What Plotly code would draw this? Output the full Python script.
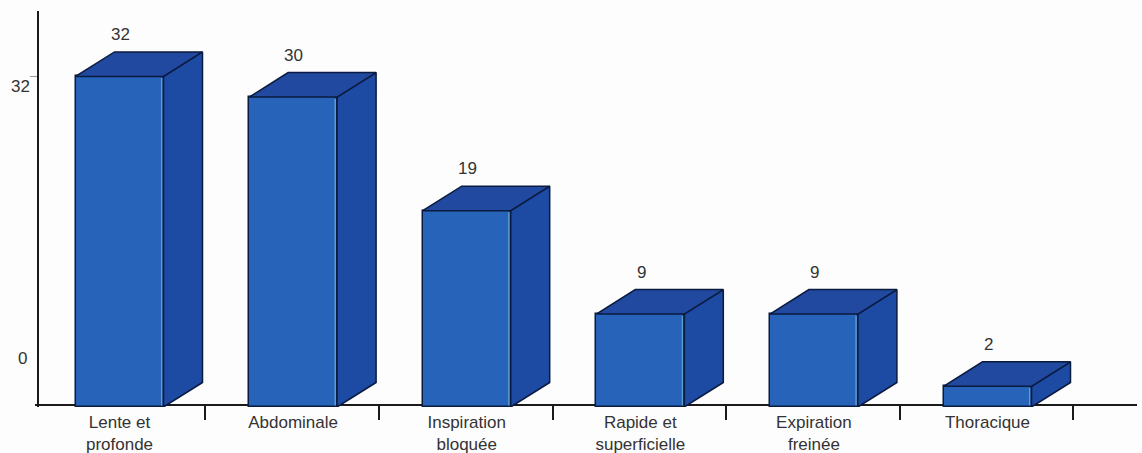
import plotly.graph_objects as go

categories = ["Lente et<br>profonde", "Abdominale", "Inspiration<br>bloquée", "Rapide et<br>superficielle", "Expiration<br>freinée", "Thoracique"]
values = [32, 30, 19, 9, 9, 2]
value_labels = ["32", "30", "19", "9", "9", "2"]

W, H = 1142, 453
ML, MR, MT, MB = 35, 5, 11, 46
PX_X = 173.6
PX_Y = 10.33
X0_PX = 119.5
plot_w = W - ML - MR
plot_h = H - MT - MB
xr = [(ML - X0_PX) / PX_X, (W - MR - X0_PX) / PX_X]
yr = [0, plot_h / PX_Y]

BAR_W = 88 / PX_X
DX = 39 / PX_X
DY = 24.5 / PX_Y
FRONT, TOP, SIDE, EDGE, INK, GLINT = "#2763b8", "#20499f", "#1d4aa3", "#0b1a3f", "#333333", "#5a9fd4"

xs = list(range(len(values)))
fig = go.Figure()
fig.add_trace(go.Bar(x=xs, y=values, width=BAR_W, marker=dict(color=FRONT, line=dict(color=EDGE, width=1.5)), hoverinfo="skip"))
for x, v in zip(xs, values):
    l, r = x - BAR_W / 2, x + BAR_W / 2
    fig.add_trace(go.Scatter(x=[r - 1.8 / PX_X] * 2, y=[0.15, v - 0.15], mode="lines", line=dict(color=GLINT, width=1.5), hoverinfo="skip"))
    fig.add_trace(go.Scatter(x=[r, r + DX, r + DX, r, r], y=[v, v + DY, DY, 0, v], mode="lines", fill="toself", fillcolor=SIDE,
                             line=dict(color=EDGE, width=1.5), hoverinfo="skip", cliponaxis=False))
    fig.add_trace(go.Scatter(x=[l, l + DX, r + DX, r, l], y=[v, v + DY, v + DY, v, v], mode="lines", fill="toself", fillcolor=TOP,
                             line=dict(color=EDGE, width=1.5), hoverinfo="skip", cliponaxis=False))

for x, v, t in zip(xs, values, value_labels):
    fig.add_annotation(x=x + 0.005, y=v, text=t, showarrow=False, yshift=42, font=dict(size=17, color=INK, family="Liberation Sans"))
fig.add_annotation(xref="paper", yref="y", x=-0.0136, y=32, text="32", showarrow=False, xanchor="center", yshift=-10, font=dict(size=17, color=INK, family="Liberation Sans"))
fig.add_annotation(xref="paper", yref="y", x=-0.011, y=0, text="0", showarrow=False, xanchor="center", yshift=49, font=dict(size=17, color=INK, family="Liberation Sans"))

fig.update_layout(
    width=W, height=H, autosize=False, showlegend=False, bargap=0,
    margin=dict(l=ML, r=MR, t=MT, b=MB, pad=0, autoexpand=False),
    paper_bgcolor="#fdfdfd", plot_bgcolor="#fdfdfd",
    xaxis=dict(range=xr, tickmode="array", tickvals=xs, ticktext=categories, showgrid=False, zeroline=False, automargin=False,
               showline=True, linecolor="#1a1a1a", linewidth=2, anchor="free", position=2.5 / plot_h, layer="below traces",
               ticks="", ticklabelstandoff=2, tickfont=dict(size=17, color=INK, family="Liberation Sans"),
               minor=dict(tickmode="array", tickvals=[x + 0.495 for x in xs], ticks="outside", ticklen=14, tickwidth=2, tickcolor="#1a1a1a", showgrid=False)),
    yaxis=dict(range=yr, tickmode="array", tickvals=[32], ticktext=[""], showgrid=False, zeroline=False, automargin=False,
               showline=True, linecolor="#1a1a1a", linewidth=2, anchor="free", position=3 / plot_w,
               ticks="outside", ticklen=7, tickwidth=1, tickcolor="#999999"),
)
fig.write_html("out.html", config={"displayModeBar": False}, post_script="document.body.style.margin='0';")
